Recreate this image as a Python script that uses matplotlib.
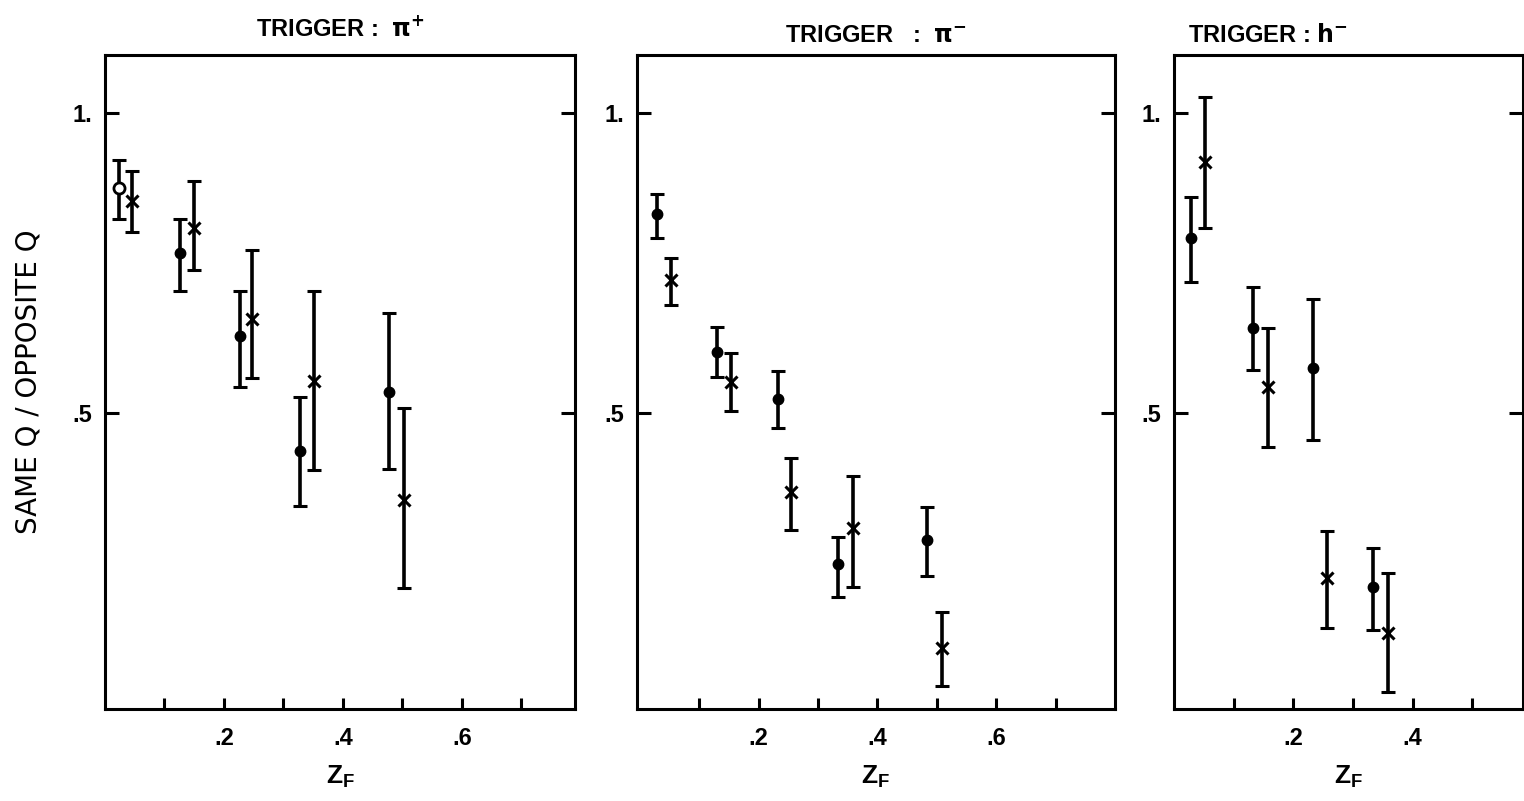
import matplotlib
matplotlib.use("Agg")
import matplotlib.pyplot as plt
from matplotlib.ticker import FixedLocator, FuncFormatter

plt.rcParams['font.family'] = ['Liberation Sans', 'DejaVu Sans']

# ---- data: panel 1, trigger pi+ ----
p1_dot_x = [0.024, 0.126, 0.227, 0.328, 0.477]
p1_dot_y = [0.875, 0.767, 0.628, 0.437, 0.535]
p1_dot_lo = [0.823, 0.703, 0.543, 0.345, 0.407]
p1_dot_hi = [0.922, 0.823, 0.703, 0.527, 0.667]
p1_x_x = [0.045, 0.150, 0.247, 0.351, 0.503]
p1_x_y = [0.853, 0.808, 0.657, 0.553, 0.355]
p1_x_lo = [0.802, 0.738, 0.558, 0.405, 0.208]
p1_x_hi = [0.903, 0.887, 0.772, 0.703, 0.508]

# ---- panel 2, trigger pi- ----
p2_dot_x = [0.028, 0.129, 0.232, 0.334, 0.484]
p2_dot_y = [0.832, 0.602, 0.523, 0.248, 0.288]
p2_dot_lo = [0.792, 0.560, 0.475, 0.193, 0.228]
p2_dot_hi = [0.865, 0.643, 0.570, 0.293, 0.343]
p2_x_x = [0.052, 0.154, 0.255, 0.358, 0.508]
p2_x_y = [0.722, 0.552, 0.368, 0.308, 0.108]
p2_x_lo = [0.680, 0.503, 0.305, 0.210, 0.045]
p2_x_hi = [0.758, 0.600, 0.425, 0.395, 0.168]

# ---- panel 3, trigger h- ----
p3_dot_x = [0.029, 0.132, 0.233, 0.334]
p3_dot_y = [0.792, 0.642, 0.575, 0.210]
p3_dot_lo = [0.718, 0.572, 0.455, 0.138]
p3_dot_hi = [0.860, 0.710, 0.690, 0.275]
p3_x_x = [0.052, 0.157, 0.256, 0.359]
p3_x_y = [0.918, 0.543, 0.225, 0.133]
p3_x_lo = [0.808, 0.443, 0.142, 0.035]
p3_x_hi = [1.027, 0.642, 0.303, 0.233]

titles = [r'TRIGGER :  $\mathbf{\pi^{+}}$', r'TRIGGER   :  $\mathbf{\pi^{-}}$', r'TRIGGER : $\mathbf{h^{-}}$']
y_ticks = [0.5, 1.0]
y_ticklabels = ['.5', '1.']
x_label_ticks = {0.2: '.2', 0.4: '.4', 0.6: '.6'}

panels = [
    (p1_dot_x, p1_dot_y, p1_dot_lo, p1_dot_hi, p1_x_x, p1_x_y, p1_x_lo, p1_x_hi),
    (p2_dot_x, p2_dot_y, p2_dot_lo, p2_dot_hi, p2_x_x, p2_x_y, p2_x_lo, p2_x_hi),
    (p3_dot_x, p3_dot_y, p3_dot_lo, p3_dot_hi, p3_x_x, p3_x_y, p3_x_lo, p3_x_hi),
]

fig = plt.figure(figsize=(15.24, 8.01), dpi=100)
ax_rects = [
    [0.0689, 0.1149, 0.3084, 0.8164],
    [0.4180, 0.1149, 0.3136, 0.8164],
    [0.7703, 0.1149, 0.2290, 0.8164],
]
xlims = [(0.0, 0.79), (-0.005, 0.80), (0.0, 0.585)]
xticks_all = [[0.1, 0.2, 0.3, 0.4, 0.5, 0.6, 0.7],
              [0.1, 0.2, 0.3, 0.4, 0.5, 0.6, 0.7],
              [0.1, 0.2, 0.3, 0.4, 0.5]]
title_pos = [(0.5, 'center', 1.022), (0.5, 'center', 1.012), (0.04, 'left', 1.012)]

for i, (rect, data) in enumerate(zip(ax_rects, panels)):
    ax = fig.add_axes(rect)
    dx, dy, dlo, dhi, xx, xy, xlo, xhi = data
    err_d = [[y - l for y, l in zip(dy, dlo)], [h - y for y, h in zip(dy, dhi)]]
    err_x = [[y - l for y, l in zip(xy, xlo)], [h - y for y, h in zip(xy, xhi)]]
    ax.errorbar(dx, dy, yerr=err_d, fmt='o', color='black', ms=7.5, elinewidth=2.6,
                capsize=5, capthick=2.2)
    ax.errorbar(xx, xy, yerr=err_x, fmt='x', color='black', ms=9, mew=2.2,
                elinewidth=2.6, capsize=5, capthick=2.2)
    if i == 0:
        # first point of the pi+ panel is drawn as an open circle
        ax.plot(dx[:1], dy[:1], 'o', ms=8, mfc='white', mec='black', mew=2.0,
                zorder=5)
    ax.set_xlim(*xlims[i])
    ax.set_ylim(0.007, 1.097)
    for s in ax.spines.values():
        s.set_linewidth(2.2)
    ax.xaxis.set_major_locator(FixedLocator(xticks_all[i]))
    ax.xaxis.set_major_formatter(FuncFormatter(
        lambda v, p: x_label_ticks.get(round(v, 1), '')))
    ax.set_yticks(y_ticks)
    ax.set_yticklabels(y_ticklabels)
    ax.tick_params(axis='x', direction='in', length=8, width=2.2, pad=13,
                   labelsize=17, bottom=True, top=False)
    ax.tick_params(axis='y', direction='in', length=10, width=2.2, pad=9,
                   labelsize=17, left=True, right=True)
    for lab in ax.get_xticklabels() + ax.get_yticklabels():
        lab.set_fontweight('bold')
    ax.set_xlabel(r'Z$_{\mathregular{F}}$', fontsize=19, fontweight='bold', labelpad=10)
    tx, ha, ty = title_pos[i]
    ax.text(tx, ty, titles[i], transform=ax.transAxes, ha=ha, va='bottom',
            fontsize=17, fontweight='bold')
    if i == 0:
        ax.set_ylabel('SAME Q / OPPOSITE Q', fontsize=20, labelpad=22,
                      family=['DejaVu Sans'])

fig.savefig('out.png', dpi=100)
